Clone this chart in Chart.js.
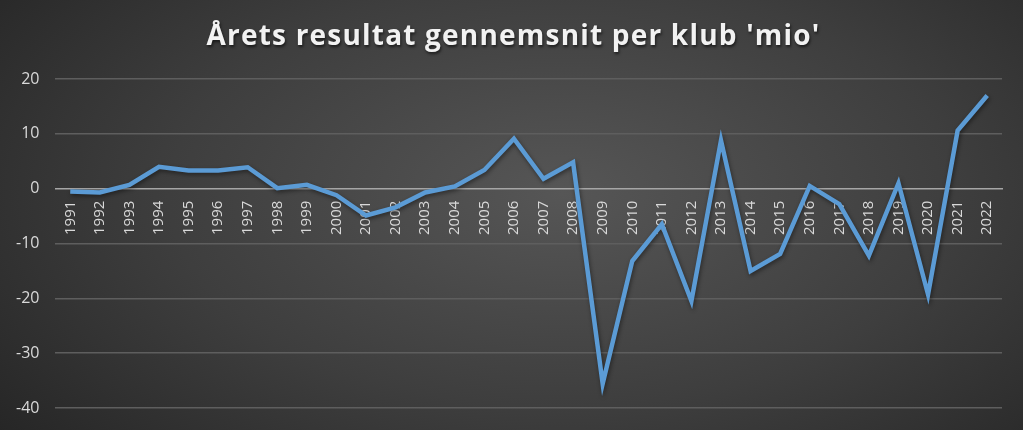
<!DOCTYPE html>
<html lang="da">
<head>
<meta charset="UTF-8">
<title>Årets resultat</title>
<style>
  html, body { margin: 0; padding: 0; }
  body {
    width: 1023px; height: 430px; overflow: hidden;
    background: radial-gradient(ellipse 70% 90% at 55% 45%, #565656 0%, #3e3e3e 55%, #262626 100%);
  }
  #wrap { position: relative; width: 1023px; height: 430px; }
</style>
</head>
<body>
<div id="wrap"><canvas id="myChart" width="1023" height="430"></canvas></div>

<script src="https://cdn.jsdelivr.net/npm/chart.js"></script>
<script>
    // data
    const titel = "Årets resultat gennemsnit per klub 'mio'";
    const aar = ['1991', '1992', '1993', '1994', '1995', '1996', '1997', '1998', '1999', '2000',
        '2001', '2002', '2003', '2004', '2005', '2006', '2007', '2008', '2009', '2010',
        '2011', '2012', '2013', '2014', '2015', '2016', '2017', '2018', '2019', '2020',
        '2021', '2022'];
    const resultat = [-0.5, -0.7, 0.7, 4.0, 3.3, 3.3, 3.9, 0.1, 0.7, -1.2,
        -4.9, -3.4, -0.7, 0.4, 3.4, 9.1, 1.8, 4.8, -35.6, -13.2,
        -6.5, -20.5, 8.8, -15.0, -11.9, 0.5, -2.8, -12.2, 1.0, -19.3,
        10.6, 17.0];
    const yTicks = [-40, -30, -20, -10, 0, 10, 20];

    // skygge under linjen
    const shadowPlugin = {
        id: 'lineShadow',
        beforeDatasetDraw(chart) {
            chart.ctx.save();
            chart.ctx.shadowColor = 'rgba(0,0,0,0.45)';
            chart.ctx.shadowBlur = 4;
            chart.ctx.shadowOffsetX = 1;
            chart.ctx.shadowOffsetY = 2;
        },
        afterDatasetDraw(chart) {
            chart.ctx.restore();
        }
    };

    // titel med lidt luft mellem bogstaverne
    const titelPlugin = {
        id: 'titel',
        afterDraw(chart) {
            const c = chart.ctx;
            c.save();
            c.font = 'bold 28px "Open Sans"';
            c.letterSpacing = '1.2px';
            c.fillStyle = '#f2f2f2';
            c.textAlign = 'center';
            c.textBaseline = 'alphabetic';
            c.shadowColor = 'rgba(0,0,0,0.6)';
            c.shadowBlur = 3;
            c.shadowOffsetX = 1;
            c.shadowOffsetY = 2;
            c.fillText(titel, chart.width / 2 + 2, 45);
            c.restore();
        }
    };

    const ctx = document.getElementById('myChart');
    new Chart(ctx, {
        type: 'line',
        data: {
            labels: aar,
            datasets: [{
                label: 'Resultat',
                data: resultat,
                borderColor: '#5b9bd5',
                borderWidth: 4.5,
                pointRadius: 0,
                tension: 0,
                borderJoinStyle: 'miter'
            }]
        },
        plugins: [shadowPlugin, titelPlugin],
        options: {
            responsive: false,
            animation: false,
            devicePixelRatio: 1,
            layout: { padding: { left: 0, right: 21, top: 79, bottom: 22 } },
            plugins: {
                legend: { display: false },
                tooltip: { enabled: false },
                title: { display: false }
            },
            scales: {
                x: {
                    position: { y: 0 },
                    offset: true,
                    afterFit(axis) {
                        axis.paddingTop = 0;
                        axis.paddingBottom = 0;
                    },
                    grid: { display: false, drawTicks: false },
                    border: { display: true, color: '#a6a6a6', width: 1.5 },
                    ticks: {
                        color: '#d9d9d9',
                        font: { family: 'Open Sans', size: 15 },
                        maxRotation: 90,
                        minRotation: 90,
                        autoSkip: false,
                        padding: 12
                    }
                },
                y: {
                    min: -40,
                    max: 20,
                    afterBuildTicks(axis) {
                        axis.ticks = yTicks.map(v => ({ value: v }));
                    },
                    afterFit(axis) {
                        axis.paddingTop = 0;
                        axis.paddingBottom = 0;
                    },
                    grid: {
                        color: ctx => ctx.tick && ctx.tick.value === 0 ? 'rgba(0,0,0,0)' : '#5e5e5e',
                        lineWidth: 1.5,
                        drawTicks: false
                    },
                    border: { display: false },
                    ticks: {
                        color: '#d9d9d9',
                        font: { family: 'Open Sans', size: 16 },
                        padding: 16
                    }
                }
            }
        }
    });
</script>
</body>
</html>
